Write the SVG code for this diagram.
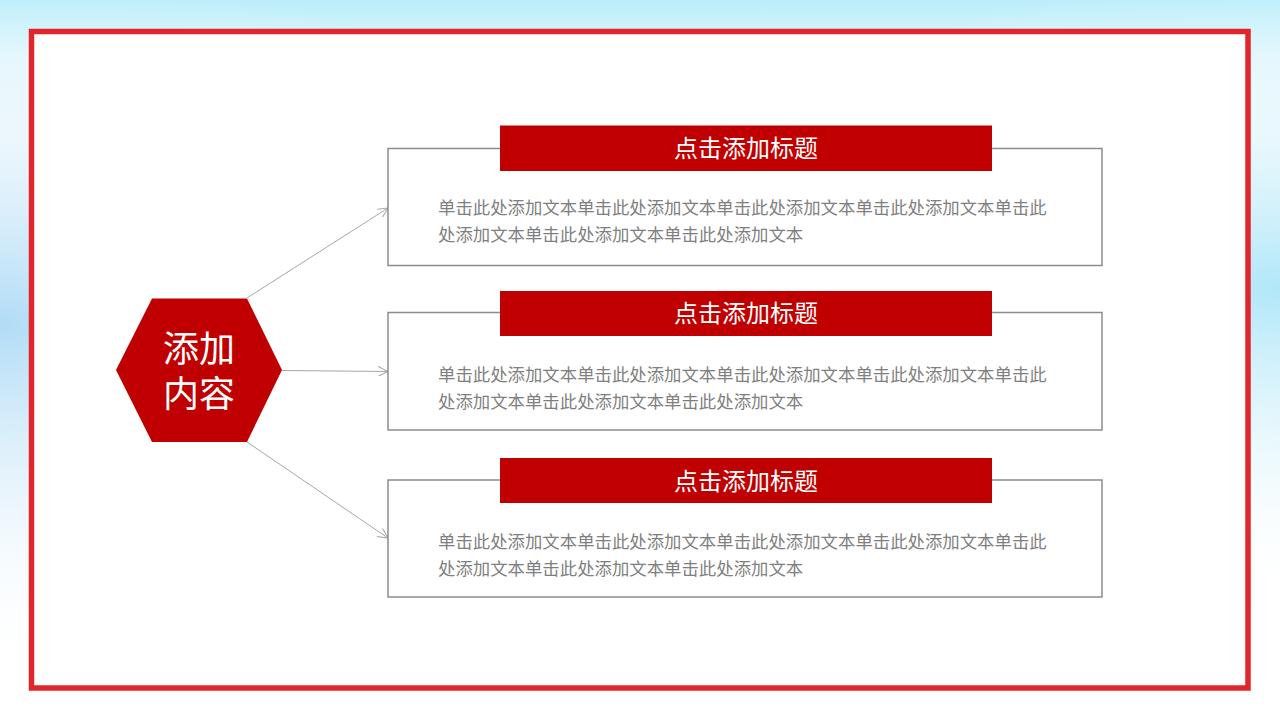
<svg xmlns="http://www.w3.org/2000/svg" width="1280" height="720" viewBox="0 0 1280 720">
  <defs>
    <style>
      .frame { fill: #ffffff; stroke: #e0262a; stroke-width: 5.5; }
      .hex { fill: #c00000; }
      .box { fill: #ffffff; stroke: #8c8c8c; stroke-width: 1.5; }
      .bar { fill: #c00000; }
      .conn { fill: none; stroke: #a6a6a6; stroke-width: 1; marker-end: url(#arrow); }
      .hexText { font-family: "Noto Sans CJK SC", "Liberation Sans", sans-serif; font-size: 36px; fill: #ffffff; text-anchor: middle; }
      .title { font-family: "Noto Sans CJK SC", "Liberation Sans", sans-serif; font-size: 24px; fill: #ffffff; text-anchor: middle; }
      .body { font-family: "Noto Sans CJK SC", "Liberation Sans", sans-serif; font-size: 17.4px; fill: #7f7f7f; }
    </style>
    <marker id="arrow" viewBox="0 0 10 10" refX="10" refY="5" markerWidth="10" markerHeight="10" markerUnits="userSpaceOnUse" orient="auto">
      <path d="M0,0 L10,5 L0,10" fill="none" stroke="#a6a6a6" stroke-width="1"/>
    </marker>
    <linearGradient id="bgTop" x1="0" y1="0" x2="0" y2="1">
      <stop offset="0" stop-color="#b9eefa"/>
      <stop offset="0.08" stop-color="#e4f7fd"/>
      <stop offset="0.2" stop-color="#ffffff"/>
    </linearGradient>
    <radialGradient id="bgLeft" cx="0" cy="0.45" r="0.5">
      <stop offset="0" stop-color="#a8d8f5" stop-opacity="0.9"/>
      <stop offset="1" stop-color="#ffffff" stop-opacity="0"/>
    </radialGradient>
    <radialGradient id="bgRight" cx="1" cy="0.4" r="0.45">
      <stop offset="0" stop-color="#a8e4f8" stop-opacity="0.9"/>
      <stop offset="1" stop-color="#ffffff" stop-opacity="0"/>
    </radialGradient>
  </defs>

  <g id="background">
    <rect x="0" y="0" width="1280" height="720" fill="url(#bgTop)"/>
    <rect x="0" y="0" width="1280" height="720" fill="url(#bgLeft)"/>
    <rect x="0" y="0" width="1280" height="720" fill="url(#bgRight)"/>
    <rect class="frame" x="31.5" y="31.5" width="1216.5" height="656.5"/>
  </g>

  <g id="connectors">
    <line class="conn" x1="247" y1="298" x2="388" y2="208"/>
    <line class="conn" x1="282" y1="370.5" x2="388" y2="371.5"/>
    <line class="conn" x1="247" y1="442" x2="388" y2="538"/>
  </g>

  <g id="hexagon">
    <polygon class="hex" points="116,370 152,298.5 247,298.5 282,370 247,442 152,442"/>
    <text class="hexText" x="199" y="362"><tspan x="199" y="362">添加</tspan><tspan x="199" y="407">内容</tspan></text>
  </g>

  <g id="box1">
    <rect class="box" x="388" y="148.5" width="714" height="117"/>
    <rect class="bar" x="500" y="125.5" width="492" height="45.5"/>
    <text class="title" x="746" y="156.5">点击添加标题</text>
    <text class="body" x="438" y="214">单击此处添加文本单击此处添加文本单击此处添加文本单击此处添加文本单击此</text>
    <text class="body" x="438" y="241">处添加文本单击此处添加文本单击此处添加文本</text>
  </g>

  <g id="box2">
    <rect class="box" x="388" y="312.5" width="714" height="117.5"/>
    <rect class="bar" x="500" y="291" width="492" height="45"/>
    <text class="title" x="746" y="321.5">点击添加标题</text>
    <text class="body" x="438" y="381">单击此处添加文本单击此处添加文本单击此处添加文本单击此处添加文本单击此</text>
    <text class="body" x="438" y="408">处添加文本单击此处添加文本单击此处添加文本</text>
  </g>

  <g id="box3">
    <rect class="box" x="388" y="480" width="714" height="117"/>
    <rect class="bar" x="500" y="458" width="492" height="45"/>
    <text class="title" x="746" y="489.5">点击添加标题</text>
    <text class="body" x="438" y="548">单击此处添加文本单击此处添加文本单击此处添加文本单击此处添加文本单击此</text>
    <text class="body" x="438" y="575">处添加文本单击此处添加文本单击此处添加文本</text>
  </g>
</svg>
